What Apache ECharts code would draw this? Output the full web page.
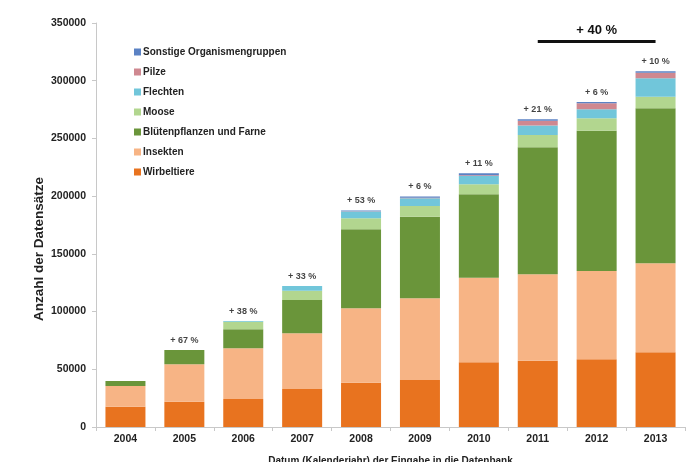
<!DOCTYPE html>
<html>
<head>
<meta charset="utf-8">
<script src="https://cdn.jsdelivr.net/npm/echarts@6/dist/echarts.min.js"></script>
<style>html,body{margin:0;padding:0;background:#fff}#c{width:688px;height:462px}</style>
</head>
<body>
<div id="c"></div>
<script>
var years = ['2004','2005','2006','2007','2008','2009','2010','2011','2012','2013'];
var wirbeltiere = [17600, 21900, 24300, 32900, 38400, 40700, 56100, 57500, 58700, 64700];
var insekten    = [17900, 32400, 43900, 48300, 64400, 70800, 73300, 74800, 76500, 77100];
var bluetenpfl  = [4400, 12400, 16400, 28800, 68500, 70700, 72200, 110100, 121500, 134300];
var moose       = [0, 0, 6600, 8100, 9500, 9300, 8700, 10600, 10800, 10100];
var flechten    = [0, 0, 600, 4100, 5800, 6700, 7200, 8100, 7800, 15900];
var pilze       = [0, 0, 0, 0, 300, 500, 600, 4300, 5200, 4900];
var sonstige    = [0, 0, 0, 0, 700, 1000, 1700, 1200, 1100, 1200];
var growthLabels = ['', '+ 67 %', '+ 38 %', '+ 33 %', '+ 53 %', '+ 6 %', '+ 11 %', '+ 21 %', '+ 6 %', '+ 10 %'];
var yTicks = [0, 50000, 100000, 150000, 200000, 250000, 300000, 350000];
var spanLabel = '+ 40 %';
var spanFrom = '2011', spanTo = '2013', spanLevel = 334500;

var names = ['Wirbeltiere','Insekten','Blütenpflanzen und Farne','Moose','Flechten','Pilze','Sonstige Organismengruppen'];
var colors = ['#E8731F','#F7B485','#6A953A','#B2D68F','#71C6DA','#CF8890','#5B82C4'];
var datasets = [wirbeltiere, insekten, bluetenpfl, moose, flechten, pilze, sonstige];

var totals = years.map(function(y, i){
  var s = 0; datasets.forEach(function(d){ s += d[i]; }); return s;
});

var FONT = 'Liberation Sans';
var series = names.map(function(n, k){
  return {
    name: n, type: 'bar', stack: 'all', barWidth: 40,
    itemStyle: {color: colors[k]},
    data: datasets[k]
  };
});
series[0].markLine = {
  silent: true, symbol: 'none',
  lineStyle: {color: '#111', width: 3, type: 'solid'},
  label: {show: true, formatter: spanLabel, position: 'insideMiddleTop', distance: 4,
          color: '#111', fontFamily: FONT, fontWeight: 'bold', fontSize: 13},
  data: [[{coord: [spanFrom, spanLevel]}, {coord: [spanTo, spanLevel]}]]
};
series.push({
  name: 'growth', type: 'scatter', symbolSize: 0, silent: true,
  data: years.map(function(y, i){ return {value: [y, totals[i]], label: {formatter: growthLabels[i]}}; }),
  label: {show: true, position: 'top', distance: 5, color: '#111',
          fontFamily: FONT, fontWeight: 'bold', fontSize: 9}
});

var chart = echarts.init(document.getElementById('c'), null, {renderer: 'canvas'});
chart.setOption({
  animation: false,
  backgroundColor: '#fff',
  grid: {left: 96, right: 3, top: 23, bottom: 35, containLabel: false, outerBoundsMode: 'none'},
  legend: {
    orient: 'vertical', left: 129, top: 41,
    itemWidth: 7, itemHeight: 7, itemGap: 8,
    icon: 'rect',
    data: names.slice().reverse(),
    textStyle: {fontFamily: FONT, fontWeight: 'bold', fontSize: 10, color: '#222', padding: [0,0,0,-3], lineHeight: 12}
  },
  xAxis: {
    type: 'category', data: years,
    name: 'Datum (Kalenderjahr) der Eingabe in die Datenbank',
    nameLocation: 'middle', nameGap: 29, nameMoveOverlap: false,
    nameTextStyle: {fontFamily: FONT, fontWeight: 'bold', fontSize: 10, color: '#222'},
    axisLine: {lineStyle: {color: '#c8c8c8', width: 1}},
    axisTick: {show: true, length: 4, lineStyle: {color: '#c8c8c8'}},
    axisLabel: {fontFamily: FONT, fontWeight: 'bold', fontSize: 10.5, color: '#222', margin: 7}
  },
  yAxis: {
    type: 'value', min: yTicks[0], max: yTicks[yTicks.length-1], interval: yTicks[1]-yTicks[0],
    name: 'Anzahl der Datensätze', nameLocation: 'middle', nameGap: 50, nameMoveOverlap: false,
    nameTextStyle: {fontFamily: FONT, fontWeight: 'bold', fontSize: 13.5, color: '#222', padding: [0, 48, 0, 0]},
    axisLine: {show: true, lineStyle: {color: '#c8c8c8', width: 1}},
    axisTick: {show: true, length: 4, lineStyle: {color: '#c8c8c8'}},
    splitLine: {show: false},
    axisLabel: {fontFamily: FONT, fontWeight: 'bold', fontSize: 10.5, color: '#222', margin: 10,
                formatter: function(v){ return String(v); }}
  },
  series: series
});
</script>
</body>
</html>
